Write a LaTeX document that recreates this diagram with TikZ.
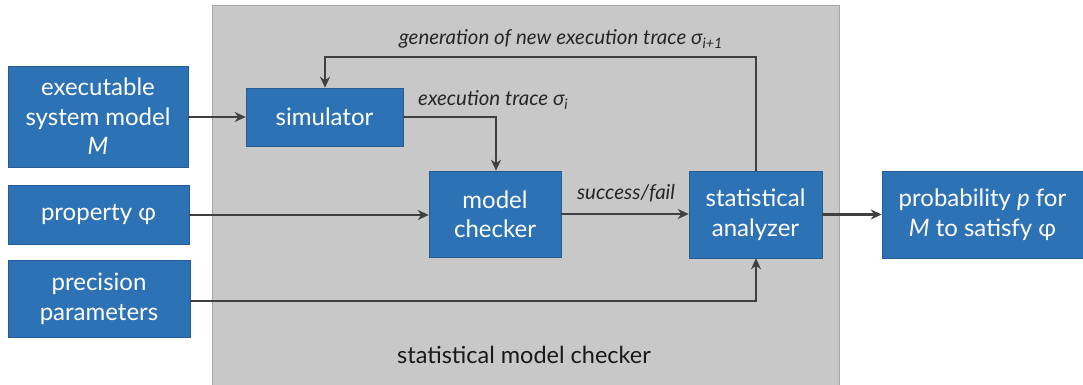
\documentclass[tikz,border=0pt]{standalone}
\usepackage{fontspec}
\setmainfont{Lato}
\usetikzlibrary{arrows.meta}
\definecolor{boxblue}{RGB}{46,114,182}
\definecolor{panelgrey}{RGB}{200,200,200}
\definecolor{linegrey}{RGB}{64,64,64}
\tikzset{
  blk/.style={fill=boxblue, draw=boxblue!80!black, line width=0.6pt, text=white, align=center, inner sep=0pt, font=\fontsize{24}{29.5}\selectfont},
  conn/.style={draw=linegrey, line width=2.2pt, -{Stealth[length=11pt,width=10pt]}},
  lbl/.style={font=\fontsize{20.5}{24}\selectfont\itshape, text=black!85, inner sep=0pt}
}
\begin{document}
\begin{tikzpicture}[x=1pt,y=-1pt]
\useasboundingbox (0,0) rectangle (1083,385);
\fill[panelgrey] (212,6) rectangle (839,385);
\draw[black!35, line width=1pt] (212,385) -- (212,6) -- (839,6) -- (839,385);

\node[blk, minimum width=180pt, minimum height=101pt] (exe) at (98,116.5) {executable\\system model\\\textit{M}};
\node[blk, minimum width=157pt, minimum height=58pt] (sim) at (324.5,117) {simulator};
\node[blk, minimum width=181pt, minimum height=59pt] (prop) at (98.5,215) {property φ};
\node[blk, minimum width=182pt, minimum height=77pt] (prec) at (99,299) {precision\\parameters};
\node[blk, minimum width=132pt, minimum height=86pt] (mc) at (495,214) {model\\checker};
\node[blk, minimum width=133pt, minimum height=87pt] (sa) at (755.5,214.5) {statistical\\analyzer};
\node[blk, minimum width=201pt, minimum height=87pt] (prob) at (982.5,214.5) {probability \textit{p} for\\\textit{M} to satisfy φ};

\coordinate (topR) at (756,57);
\coordinate (topL) at (325,57);
\coordinate (simR) at (496,117);
\coordinate (precR) at (756,301);

\draw[conn] (exe.east |- sim.west) -- (sim.west);
\draw[conn] (sim.east) -- (simR) -- (mc.north -| simR);
\draw[conn] (prop.east) -- (prop.east -| mc.west);
\draw[conn] (mc.east) -- (sa.west |- mc.east);
\draw[conn] (prec.east |- precR) -- (precR) -- (sa.south -| precR);
\draw[conn] (sa.north -| topR) -- (topR) -- (topL) -- (sim.north -| topL);
\draw[conn] (sa.east) -- (prob.west |- sa.east);

\node[lbl, anchor=base] (l1) at (561,45) {generation of new execution trace σ\textsubscript{\textit{i}+1}};
\node[lbl, anchor=base west] (l2) at (418,106) {execution trace σ\textsubscript{\textit{i}}};
\node[lbl, anchor=base] (l3) at (626,199) {success/fail};
\node[font=\fontsize{23.5}{28}\selectfont, text=black!90, anchor=base] (title) at (524,363) {statistical model checker};
\end{tikzpicture}
\end{document}
